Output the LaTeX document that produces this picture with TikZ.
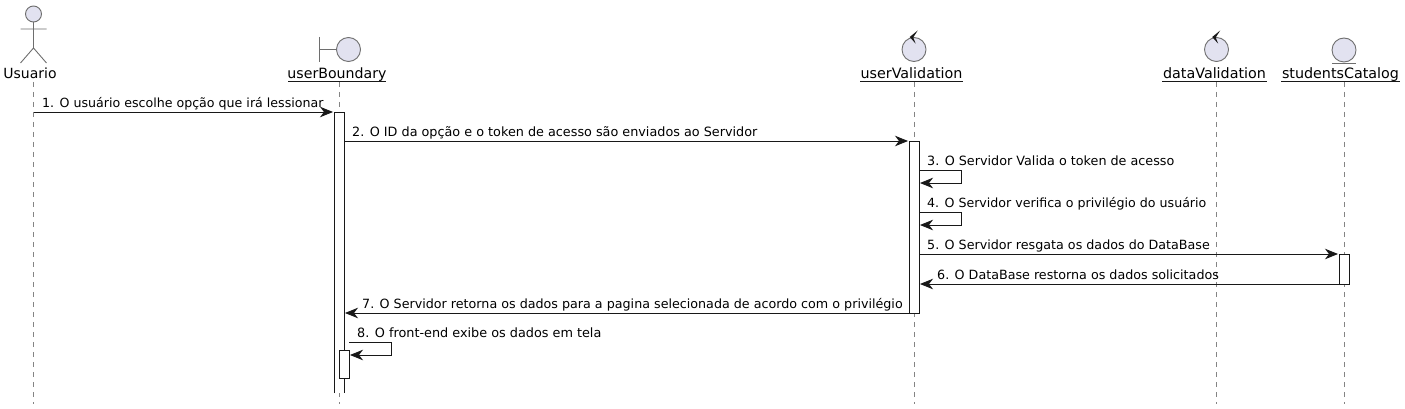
\documentclass[tikz,border=0pt]{standalone}
\usepackage{fontspec}
\setmainfont{DejaVu Sans}
\usetikzlibrary{arrows.meta}
\definecolor{ink}{HTML}{181818}
\definecolor{partfill}{HTML}{E2E2F0}
\definecolor{partline}{HTML}{6E6E6E}
\tikzset{
  x=1pt,y=-1pt,
  msgtip/.tip={Stealth[length=13pt,width=10.5pt,inset=4pt]},
  msg/.style={draw=ink,line width=0.9pt,-{msgtip}},
  msgtext/.style={anchor=base west,inner sep=0pt,font=\fontsize{#1}{15}\selectfont,text=black},
  msgtext/.default=12.7,
  nametext/.style={anchor=base,inner sep=0pt,font=\fontsize{14.3}{16}\selectfont,text=black},
  lifeline/.style={draw=partline!85,line width=0.8pt,dash pattern=on 5pt off 5pt},
  activebox/.style={draw=ink,fill=white,line width=0.9pt,inner sep=0pt,minimum width=10pt},
  glyph/.style={draw=partline,line width=0.9pt},
  glyphfill/.style={draw=partline,fill=partfill,line width=0.9pt},
  under/.style={draw=ink,line width=0.9pt},
}
\begin{document}
\begin{tikzpicture}
\useasboundingbox (0,0) rectangle (1405,409);
\fill[white] (0,0) rectangle (1405,409);

% lifeline ends
\coordinate (lu0) at (33.5,82); \coordinate (lu1) at (33.5,404);
\coordinate (lb0) at (339,82);  \coordinate (lb1) at (339,404);
\coordinate (lv0) at (914,82);  \coordinate (lv1) at (914,404);
\coordinate (ld0) at (1216.5,82); \coordinate (ld1) at (1216.5,404);
\coordinate (ls0) at (1344,82); \coordinate (ls1) at (1344,404);
\draw[lifeline] (lu0) -- (lu1);
\draw[lifeline] (lb0) -- (lb1);
\draw[lifeline] (lv0) -- (lv1);
\draw[lifeline] (ld0) -- (ld1);
\draw[lifeline] (ls0) -- (ls1);

% actor
\coordinate (neck) at (33.5,22); \coordinate (hip) at (33.5,48);
\coordinate (armL) at (20.5,29); \coordinate (armR) at (46.5,29);
\coordinate (legL) at (20.5,63); \coordinate (legR) at (46.5,63);
\draw[glyph] (neck) -- (hip) (armL) -- (armR) (legL) -- (hip) -- (legR);
\draw[glyphfill] (33.5,14) circle[radius=8];
\node[nametext,font=\fontsize{14}{16}\selectfont] (nUsuario) at (30,78.5) {Usuario};

% boundary
\coordinate (bt) at (319.5,37); \coordinate (bb) at (319.5,62); \coordinate (bm) at (319.5,49.5); \coordinate (bc) at (337,49.5);
\draw[glyph] (bt) -- (bb) (bm) -- (bc);
\draw[glyphfill] (348.5,49.5) circle[radius=12];
\node[nametext,font=\fontsize{14.15}{16}\selectfont] (nBoundary) at (337,78.5) {userBoundary};
\coordinate (ub0) at (288,81); \coordinate (ub1) at (386,81);
\draw[under] (ub0) -- (ub1);

% control 1
\draw[glyphfill] (914,49.5) circle[radius=12];
\fill[ink] (917.7,30.5) -- (909.7,37) -- (915.7,43.7) -- (913.2,37.5) -- cycle;
\node[nametext] (nValidation) at (911.5,78.5) {userValidation};
\coordinate (uv0) at (860,81); \coordinate (uv1) at (963,81);
\draw[under] (uv0) -- (uv1);

% control 2
\draw[glyphfill] (1216.5,49.5) circle[radius=12];
\fill[ink] (1220.2,30.5) -- (1212.2,37) -- (1218.2,43.7) -- (1215.7,37.5) -- cycle;
\node[nametext] (nData) at (1214.5,78.5) {dataValidation};
\coordinate (ud0) at (1162,81); \coordinate (ud1) at (1267,81);
\draw[under] (ud0) -- (ud1);

% entity
\draw[glyphfill] (1344,50) circle[radius=12];
\coordinate (e0) at (1332,63.5); \coordinate (e1) at (1356,63.5);
\draw[glyph] (e0) -- (e1);
\node[nametext] (nStudents) at (1340.5,78.5) {studentsCatalog};
\coordinate (us0) at (1281,81); \coordinate (us1) at (1400,81);
\draw[under] (us0) -- (us1);

% activations
\coordinate (abTL) at (334,112); \coordinate (abTR) at (344,112);
\coordinate (abBL) at (334,393); \coordinate (abBR) at (344,393);
\fill[white] (abTL) rectangle (abBR);
\draw[under] (abBL) -- (abTL) -- (abTR) -- (abBR);
\node[activebox,minimum height=172pt] (avBox) at (914,227) {};
\node[activebox,minimum height=30pt] (asBox) at (1344,269) {};
\node[activebox,minimum height=28pt] (abBox) at (344,364) {};

% messages
\coordinate (m1a) at (33.5,112); \coordinate (m1b) at (333,112);
\draw[msg] (m1a) -- (m1b);
\node[msgtext=12.62] (t1) at (42,107.5) {1. O usuário escolhe opção que irá lessionar};

\coordinate (m2a) at (344,141); \coordinate (m2b) at (908,141);
\draw[msg] (m2a) -- (m2b);
\node[msgtext=12.79] (t2) at (352,136.5) {2. O ID da opção e o token de acesso são enviados ao Servidor};

\coordinate (m3a) at (919,170); \coordinate (m3c) at (961,170); \coordinate (m3d) at (961,183); \coordinate (m3b) at (920,183);
\draw[msg] (m3a) -- (m3c) -- (m3d) -- (m3b);
\node[msgtext=12.76] (t3) at (927,165.5) {3. O Servidor Valida o token de acesso};

\coordinate (m4a) at (919,212); \coordinate (m4c) at (961,212); \coordinate (m4d) at (961,225); \coordinate (m4b) at (920,225);
\draw[msg] (m4a) -- (m4c) -- (m4d) -- (m4b);
\node[msgtext=12.62] (t4) at (927,207.5) {4. O Servidor verifica o privilégio do usuário};

\coordinate (m5a) at (919,254); \coordinate (m5b) at (1338,254);
\draw[msg] (m5a) -- (m5b);
\node[msgtext] (t5) at (927,249.5) {5. O Servidor resgata os dados do DataBase};

\coordinate (m6a) at (1339,284); \coordinate (m6b) at (920,284);
\draw[msg] (m6a) -- (m6b);
\node[msgtext] (t6) at (937,279.5) {6. O DataBase restorna os dados solicitados};

\coordinate (m7a) at (909,313); \coordinate (m7b) at (345,313);
\draw[msg] (m7a) -- (m7b);
\node[msgtext] (t7) at (362,308.5) {7. O Servidor retorna os dados para a pagina selecionada de acordo com o privilégio};

\coordinate (m8a) at (349,342); \coordinate (m8c) at (391,342); \coordinate (m8d) at (391,355); \coordinate (m8b) at (350,355);
\draw[msg] (m8a) -- (m8c) -- (m8d) -- (m8b);
\node[msgtext=12.82] (t8) at (357,337.5) {8. O front-end exibe os dados em tela};
\end{tikzpicture}
\end{document}
